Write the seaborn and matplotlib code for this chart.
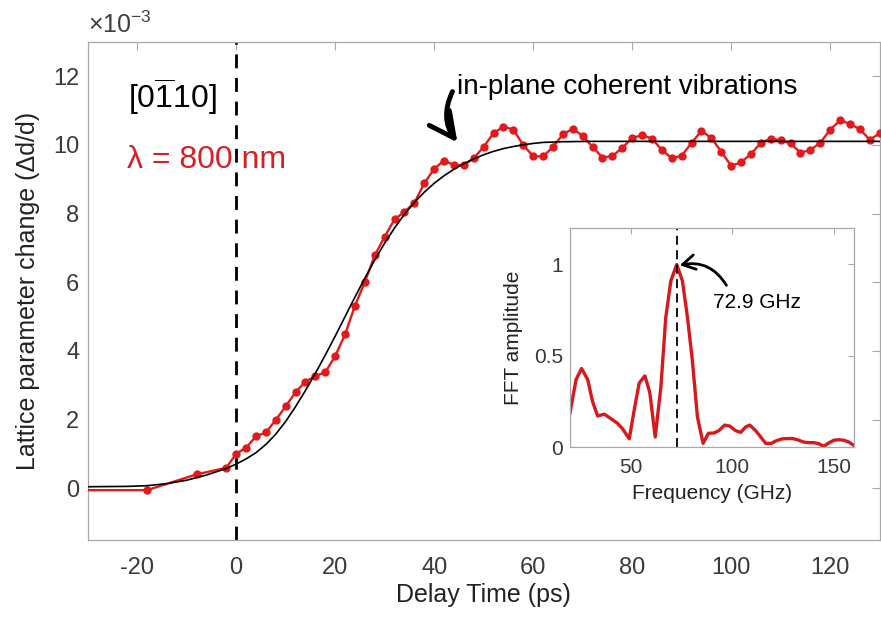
import numpy as np
import pandas as pd
import matplotlib
matplotlib.use("Agg")
import matplotlib.pyplot as plt
import seaborn as sns

# ---------------- data ----------------
delay_ps = [-50, -18, -8, -2, 0, 2, 4, 6, 8, 10, 12, 14, 16, 18, 20, 22, 24, 26, 28, 30,
            32, 34, 36, 38, 40, 42, 44, 46, 48, 50, 52, 54, 56, 58, 60, 62, 64, 66, 68, 70,
            72, 74, 76, 78, 80, 82, 84, 86, 88, 90, 92, 94, 96, 98, 100, 102, 104, 106, 108, 110,
            112, 114, 116, 118, 120, 122, 124, 126, 128, 130]
lattice_change = [-0.05, -0.05, 0.41, 0.60, 1.01, 1.18, 1.52, 1.63, 1.99, 2.39, 2.80, 3.11, 3.27, 3.38, 3.85,
                  4.48, 5.32, 6.01, 6.78, 7.33, 7.83, 8.05, 8.31, 8.88, 9.30, 9.54, 9.41, 9.41, 9.61, 9.94,
                  10.34, 10.53, 10.44, 9.99, 9.67, 9.66, 9.94, 10.30, 10.47, 10.26, 9.94, 9.63, 9.67, 9.91,
                  10.20, 10.28, 10.18, 9.85, 9.61, 9.68, 10.06, 10.40, 10.20, 9.80, 9.39, 9.49, 9.73, 10.06,
                  10.18, 10.13, 10.04, 9.77, 9.85, 10.06, 10.44, 10.71, 10.61, 10.45, 10.15, 10.33]

fit_delay_ps = [-30, -22, -18, -14, -10, -6, -2, 0, 2, 4, 6, 8, 10, 12, 14, 16, 18, 20, 22, 24, 26,
                28, 30, 32, 34, 36, 38, 40, 42, 44, 46, 48, 50, 52, 54, 56, 58, 60, 62, 66, 72, 130]
fit_change = [0.05, 0.06, 0.08, 0.14, 0.24, 0.39, 0.58, 0.71, 0.86, 1.04, 1.28, 1.58, 1.95, 2.38, 2.85,
              3.35, 3.88, 4.43, 5.00, 5.57, 6.12, 6.65, 7.14, 7.58, 7.98, 8.32, 8.62, 8.88, 9.10, 9.29,
              9.45, 9.59, 9.71, 9.81, 9.89, 9.95, 10.00, 10.04, 10.07, 10.09, 10.10, 10.10]

fft_freq_ghz = [19.7, 23.0, 25.7, 28.7, 31.1, 33.6, 36.9, 40.2, 43.4, 45.9, 49.2, 51.6, 54.1, 56.9, 59.3,
                62.0, 64.8, 67.2, 69.7, 72.6, 75.4, 77.9, 80.3, 82.8, 85.6, 88.2, 91.0, 93.4, 96.2, 98.7,
                101.6, 104.1, 106.6, 108.6, 111.5, 114.0, 116.4, 119.2, 121.8, 124.6, 129.5, 132.0, 135.2,
                137.7, 140.2, 142.6, 145.1, 147.5, 150.0, 152.5, 155.0, 157.5, 159.7]
fft_amp = [0.17, 0.37, 0.43, 0.37, 0.25, 0.17, 0.18, 0.155, 0.13, 0.10, 0.045, 0.20, 0.35, 0.39, 0.30,
           0.055, 0.33, 0.71, 0.91, 1.00, 0.91, 0.71, 0.475, 0.165, 0.02, 0.075, 0.077, 0.09, 0.12, 0.115,
           0.09, 0.08, 0.11, 0.12, 0.09, 0.055, 0.02, 0.02, 0.035, 0.045, 0.047, 0.04, 0.027,
           0.024, 0.024, 0.018, 0.004, 0.022, 0.037, 0.04, 0.037, 0.027, 0.01]
peak_freq_ghz = 72.9

x_ticks = [-20, 0, 20, 40, 60, 80, 100, 120]
y_ticks = [0, 2, 4, 6, 8, 10, 12]
fft_x_ticks = [50, 100, 150]
fft_y_ticks = [0, 0.5, 1]
fft_y_labels = ["0", "0.5", "1"]

# ---------------- style ----------------
sns.set_theme(style="white")
plt.rcParams['font.family'] = ['Liberation Sans', 'DejaVu Sans']
plt.rcParams['mathtext.fontset'] = 'custom'
plt.rcParams['mathtext.rm'] = 'Liberation Sans'
plt.rcParams['mathtext.it'] = 'Liberation Sans:italic'
plt.rcParams['mathtext.bf'] = 'Liberation Sans:bold'
plt.rcParams['axes.unicode_minus'] = False

RED = '#e31a1c'
RED_TXT = '#d61f26'
RED_FFT = '#d7191c'
SPINE = '#a8a8a8'
TICKLBL = '#3a3a3a'

fig = plt.figure(figsize=(8.81, 6.17), dpi=100)
ax = fig.add_axes([0.0995, 0.1248, 0.899, 0.8076])

main_df = pd.DataFrame({'delay': delay_ps, 'change': lattice_change})
fit_df = pd.DataFrame({'delay': fit_delay_ps, 'change': fit_change})

sns.lineplot(data=main_df, x='delay', y='change', ax=ax, color=RED, lw=1.7,
             marker='o', markersize=6, markeredgewidth=0, sort=False, zorder=3)
sns.lineplot(data=fit_df, x='delay', y='change', ax=ax, color='black', lw=1.2,
             sort=False, zorder=4)
ax.axvline(0, color='black', lw=2, ls=(0, (5, 3.5)), zorder=2)

ax.set_xlim(-30, 130)
ax.set_ylim(-1.5, 13)
ax.set_xticks(x_ticks)
ax.set_yticks(y_ticks)
ax.tick_params(direction='in', length=6, width=0.8, color=SPINE, top=True, right=True,
               labelsize=17, labelcolor=TICKLBL)
ax.tick_params(axis='x', pad=12)
ax.tick_params(axis='y', pad=6)
for s in ax.spines.values():
    s.set_color(SPINE)
    s.set_linewidth(0.9)

ax.set_xlabel('Delay Time (ps)', fontsize=18, color='#222222')
ax.set_ylabel('Lattice parameter change (\u0394d/d)', fontsize=18, color='#222222')
ax.xaxis.set_label_coords(0.5, -0.086)
ax.yaxis.set_label_coords(-0.06, 0.5)

ax.text(0.0, 1.017, r'$\times10^{-3}$', transform=ax.transAxes, fontsize=18,
        color='#404040', ha='left', va='baseline')

ax.text(-21.9, 11.08, r'[0$\overline{1}$10]', fontsize=23, color='black', ha='left', va='baseline')
ax.text(-22.1, 9.32, '\u03bb = 800 nm', fontsize=23, color=RED_TXT, ha='left', va='baseline')
ax.text(44.7, 11.47, 'in-plane coherent vibrations', fontsize=20, color='black',
        ha='left', va='baseline')
ax.annotate('', xy=(44.7, 10.07), xytext=(43.7, 11.55),
            arrowprops=dict(arrowstyle='->,head_length=0.9,head_width=0.45', lw=3.5,
                            color='black', connectionstyle='arc3,rad=0.3',
                            shrinkA=0, shrinkB=0, mutation_scale=20))

# ---------------- inset ----------------
axin = fig.add_axes([0.647, 0.2755, 0.3224, 0.355])
fft_df = pd.DataFrame({'freq': fft_freq_ghz, 'amp': fft_amp})
sns.lineplot(data=fft_df, x='freq', y='amp', ax=axin, color=RED_FFT, lw=2.4, sort=False)
axin.axvline(peak_freq_ghz, color='black', lw=1.3, ls=(0, (5, 3)))
axin.set_xlim(20, 160)
axin.set_ylim(0, 1.2)
axin.set_xticks(fft_x_ticks)
axin.set_yticks(fft_y_ticks)
axin.set_yticklabels(fft_y_labels)
axin.tick_params(direction='in', length=4, width=0.8, color=SPINE, top=True, right=True,
                 labelsize=15, labelcolor=TICKLBL)
axin.tick_params(axis='x', pad=8)
axin.tick_params(axis='y', pad=5)
for s in axin.spines.values():
    s.set_color(SPINE)
    s.set_linewidth(0.9)
axin.set_xlabel('Frequency (GHz)', fontsize=15, color='#222222')
axin.set_ylabel('FFT amplitude', fontsize=15, color='#222222')
axin.xaxis.set_label_coords(0.5, -0.17)
axin.yaxis.set_label_coords(-0.165, 0.5)
axin.text(90.5, 0.759, f'{peak_freq_ghz} GHz', fontsize=15, color='black', ha='left', va='baseline')
axin.annotate('', xy=(74.1, 0.996), xytext=(97.1, 0.886),
              arrowprops=dict(arrowstyle='->,head_length=0.6,head_width=0.35', lw=2,
                              color='black', connectionstyle='arc3,rad=0.35',
                              shrinkA=0, shrinkB=0, mutation_scale=15))

fig.savefig('out.png', dpi=100)
